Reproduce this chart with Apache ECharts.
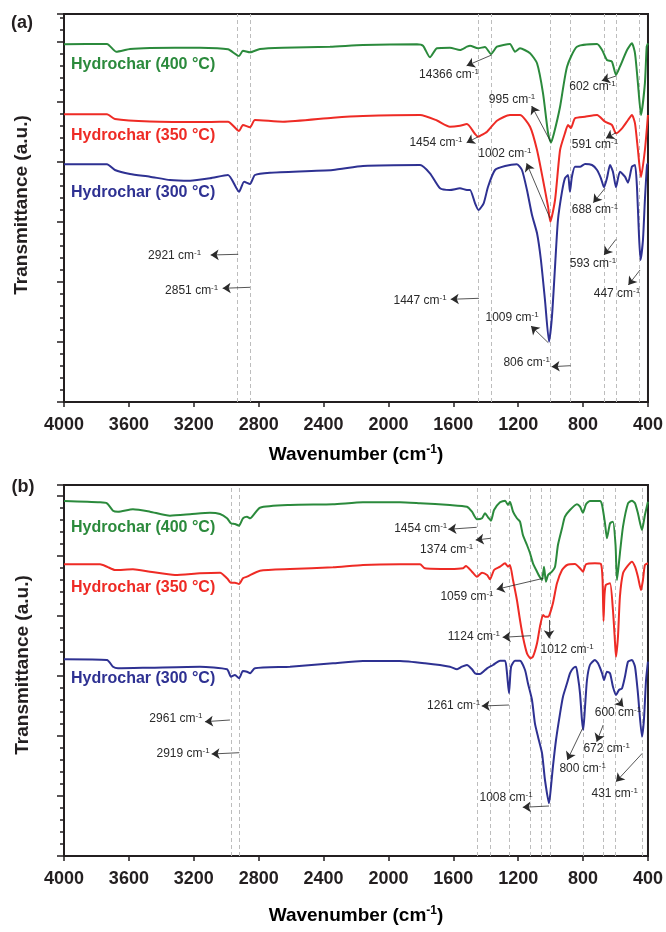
<!DOCTYPE html>
<html>
<head>
<meta charset="utf-8">
<script src="https://cdn.jsdelivr.net/npm/echarts@6/dist/echarts.min.js"></script>
<style>
  html, body { margin: 0; background: #fff; }
  #chart { width: 666px; height: 932px; }
</style>
</head>
<body>
<div id="chart"></div>
<script>
// FTIR spectra, [wavenumber, transmittance (a.u., offset)]
var a400 = [[4000,357.7],[3735,358],[3679,350.3],[3593,353],[3470,354],[3162,354.3],[2989,352.7],[2921,346],[2897,351.3],[2853,349.7],[2792,353],[2650,354.3],[2360,355.3],[2157,357],[1824,357.7],[1787,356.3],[1744,344.7],[1701,353.7],[1621,354.3],[1559,352],[1516,355.3],[1497,356.3],[1448,353.7],[1405,355],[1368,348],[1331,355.3],[1251,358],[1220,350.3],[1189,353.7],[1127,348.7],[1084,338.7],[1047,308.7],[1016,269],[998,259.3],[979,269],[942,295.3],[899,335.3],[838,355.3],[714,358],[683,352],[653,342],[622,340.3],[597,327],[573,335.3],[529,352],[499,358.7],[480,348.7],[462,318.7],[443,287],[419,318.7],[408,355.3],[400,358.7]];
var a350 = [[4000,287.7],[3735,287.7],[3686,283],[3470,280.5],[3100,280],[2989,280.3],[2921,271],[2897,277],[2853,274.7],[2823,282],[2650,280.3],[2342,284.3],[2157,286],[1805,287],[1701,281.5],[1621,275.3],[1559,276.3],[1516,278],[1466,268],[1448,265.3],[1436,266],[1392,270.3],[1331,281.3],[1251,287],[1189,287],[1127,275.3],[1084,252],[1047,222],[1016,195.3],[1002,180.3],[973,202],[942,252],[912,268.7],[893,277],[875,274],[850,283.7],[788,285.3],[714,287],[665,280.3],[622,277],[597,268.7],[560,273.7],[523,282],[499,287],[480,278.7],[462,252],[443,225],[419,252],[400,287]];
var a300 = [[4000,237.7],[3735,237.7],[3686,232],[3593,228],[3470,225.3],[3347,222],[3223,221.3],[3100,223.7],[2989,227],[2921,210.3],[2890,220.3],[2853,218],[2823,227],[2730,229.3],[2342,232],[2157,236],[1805,237],[1744,228.7],[1682,213.7],[1621,212],[1559,213.7],[1516,212],[1497,212],[1466,198.7],[1445,192],[1413,198.7],[1386,215.3],[1343,232],[1281,236],[1208,237.7],[1177,232],[1146,212],[1115,187],[1084,168.7],[1060,142],[1035,102],[1010,60.3],[992,85.3],[973,135.3],[955,182],[930,210.3],[912,223.7],[893,227],[881,210.3],[869,225.3],[850,235.3],[819,235.3],[788,238],[745,237],[714,232],[690,223.7],[671,214.7],[653,223.7],[634,237],[616,230.3],[597,214.7],[573,230.3],[542,225.3],[523,219.3],[499,235.3],[480,237],[468,215.3],[456,168.7],[446,142],[431,162],[419,202],[406,237],[400,238.7]];

var b400 = [[4000,355],[3778,353.7],[3735,352.7],[3698,345.3],[3667,344.3],[3575,346.7],[3470,344.3],[3347,340.3],[3223,341.7],[3100,343.3],[3038,342],[2995,337.7],[2971,332.7],[2946,332],[2921,330.3],[2897,337.7],[2872,339.3],[2853,337.7],[2792,348.3],[2607,351],[2342,351.7],[2157,353.7],[1929,353.7],[1805,352.7],[1621,351],[1516,349.3],[1485,344.3],[1454,336.7],[1423,337.7],[1405,342.7],[1386,338.7],[1368,335.3],[1349,346],[1312,353.7],[1281,355.3],[1263,351],[1251,354.3],[1232,344.3],[1208,337.7],[1189,334.3],[1171,321],[1146,311],[1127,302.7],[1109,292.7],[1084,284.3],[1066,278.7],[1053,276],[1041,289.3],[1029,274.3],[1016,281],[992,284.3],[973,289.3],[955,311],[930,327.7],[912,339.3],[881,346],[838,351.7],[819,349.3],[801,343.3],[782,351.7],[758,355],[696,355],[683,351],[665,332.7],[653,317.7],[634,332.7],[616,334.3],[600,311],[591,276],[573,302.7],[554,329.3],[523,352.7],[499,355.3],[480,352.7],[462,342.7],[437,326],[419,341],[400,354.3]];
var b350 = [[4000,291.7],[3778,291.7],[3735,289.3],[3686,286],[3575,286.7],[3470,284.3],[3316,281],[3162,282.7],[3038,283.3],[2995,277.7],[2971,273.3],[2946,273.3],[2921,272],[2897,277.7],[2872,279.3],[2792,285.3],[2607,287],[2342,288.7],[2157,291],[1929,291.7],[1805,291.7],[1775,287.7],[1621,287],[1540,287.7],[1522,290],[1485,284.3],[1454,279.3],[1423,283.3],[1392,281],[1374,276.7],[1349,286],[1312,289.3],[1281,292.7],[1263,289.3],[1251,291],[1232,276],[1208,256],[1189,236],[1171,219.3],[1146,202.7],[1124,197.7],[1109,199.3],[1084,212.7],[1066,229.3],[1047,241],[1035,239.3],[1016,239.3],[1004,242.7],[986,252.7],[961,272.7],[930,286],[899,291],[850,292],[819,287.7],[801,284.3],[782,291.7],[727,292.7],[690,292],[680,276],[674,235],[668,261],[660,271],[634,272.7],[616,246],[603,212.7],[597,199.3],[585,219.3],[573,259.3],[554,282.7],[529,289.3],[499,294.3],[480,289.3],[462,279.3],[443,266],[431,276],[419,291],[400,292.7]];
var b300 = [[4000,196.7],[3735,196],[3698,189.3],[3667,187.7],[3470,188.3],[3162,189.3],[2995,186.7],[2971,179.3],[2946,181],[2921,177.7],[2897,185],[2872,184.3],[2853,182.7],[2823,187.7],[2607,189.3],[2342,192.7],[2157,195],[1929,195],[1775,192.7],[1621,189.3],[1577,186.7],[1547,189.3],[1516,191],[1485,186.7],[1466,182.7],[1436,182],[1392,187.7],[1355,191],[1312,195.3],[1281,195.3],[1269,182.7],[1257,162.7],[1244,189.3],[1220,195.3],[1189,195.3],[1158,186],[1140,172.7],[1115,156],[1097,132.7],[1078,119.3],[1053,102.7],[1035,76],[1010,52.7],[998,69.3],[986,89.3],[967,116],[942,142.7],[924,159.3],[899,172.7],[881,182.7],[862,187.7],[844,189.3],[832,179.3],[819,162.7],[807,136],[799,126],[788,149.3],[776,176],[758,191],[727,196],[708,192.7],[683,182.7],[671,176],[653,184.3],[634,182.7],[616,169.3],[597,161],[579,166],[560,167.7],[542,179.3],[523,194.3],[499,196],[480,189.3],[462,162.7],[437,119.3],[425,136],[412,176],[400,194.3]];

// dashed guide lines (wavenumber)
var guidesA = [2930, 2853, 1445, 1368, 1004, 881, 671, 597, 456];
var guidesB = [2970, 2919, 1454, 1372, 1257, 1123, 1061, 1004, 800, 675, 601, 435];

// peak annotations: label, text position, arrow from -> to (data coords)
var notesA = [
  ['14366', [1627, 327], [1364, 347], [1518, 336.3]],
  ['995', [1238, 302.7], [1000, 260.3], [1117, 296]],
  ['602', [742, 315], [597, 326], [685, 321.3]],
  ['1454', [1707, 259], [1446, 265.3], [1518, 259.3]],
  ['1002', [1282, 248], [1004, 183.7], [1148, 238.7]],
  ['591', [727, 257], [597, 269.3], [659, 263.7]],
  ['688', [727, 192], [665, 213.7], [737, 199.3]],
  ['2921', [3318, 146.3], [2926, 147.7], [3096, 147]],
  ['2851', [3213, 111.3], [2853, 114.7], [3022, 113.7]],
  ['593', [739, 138.7], [597, 162.7], [671, 147]],
  ['447', [591, 108.7], [449, 132], [521, 117]],
  ['1447', [1805, 101.3], [1442, 103.7], [1616, 102.7]],
  ['1009', [1238, 84.3], [1015, 59.3], [1121, 76]],
  ['806', [1148, 39.3], [877, 36.3], [994, 35.3]]
];
var notesB = [
  ['1454', [1801, 327.7], [1456, 328.7], [1631, 326.7]],
  ['1374', [1641, 306.7], [1370, 317.7], [1462, 316]],
  ['1059', [1516, 259.3], [1045, 277.7], [1333, 266.7]],
  ['1124', [1473, 219.3], [1123, 220.3], [1296, 218.7]],
  ['1012', [899, 206.7], [1010, 236], [1010, 217.7]],
  ['2961', [3310, 137.7], [2977, 136], [3131, 134.3]],
  ['2919', [3266, 102.7], [2919, 103.3], [3090, 102]],
  ['1261', [1598, 150.3], [1257, 151], [1425, 150]],
  ['600', [585, 143.7], [597, 157.7], [552, 149.3]],
  ['672', [655, 107], [676, 131], [716, 114.3]],
  ['800', [803, 87.7], [803, 127.7], [897, 96]],
  ['431', [605, 62.7], [435, 102.7], [597, 74.3]],
  ['1008', [1275, 58.7], [1010, 50], [1172, 48.7]]
];

var names = ['Hydrochar (400 °C)', 'Hydrochar (350 °C)', 'Hydrochar (300 °C)'];
var colors = ['#2b8a3c', '#ee2b25', '#2e3192'];
var ink = '#231f20';
var font = 'Liberation Sans';

var chart = echarts.init(document.getElementById('chart'));

var panels = [
  { top: 14, height: 388, curves: [a400, a350, a300], guides: guidesA, notes: notesA, nameY: [65, 136, 193] },
  { top: 485, height: 371, curves: [b400, b350, b300], guides: guidesB, notes: notesB, nameY: [528, 588, 679] }
];

var grids = [], xAxes = [], yAxes = [], series = [], graphics = [];

panels.forEach(function (p, g) {
  grids.push({ left: 64, top: p.top, width: 584, height: p.height, show: true,
    borderColor: ink, borderWidth: 2, backgroundColor: 'transparent' });
  xAxes.push({
    gridIndex: g, type: 'value', inverse: true, min: 400, max: 4000, interval: 400,
    axisLine: { show: false },
    axisTick: { show: true, length: 5, lineStyle: { color: ink, width: 1.5 } },
    axisLabel: { margin: 14, fontFamily: font, fontWeight: 'bold', fontSize: 18, color: ink,
      formatter: function (v) { return String(v); } },
    splitLine: { show: false }
  });
  [12, 60].forEach(function (step) {
    yAxes.push({
      gridIndex: g, type: 'value', position: 'left', min: 0, max: p.height, interval: step,
      axisLine: { show: false },
      axisTick: { show: true, length: step === 12 ? 4 : 7, lineStyle: { color: ink, width: 1.5 } },
      axisLabel: { show: false }, splitLine: { show: false }
    });
  });

  // guides behind curves
  series.push({
    type: 'line', xAxisIndex: g, yAxisIndex: 2 * g, data: [], silent: true,
    markLine: {
      z: 1, silent: true, symbol: ['none', 'none'], animation: false,
      label: { show: false },
      lineStyle: { type: [4, 3], color: '#bdbdbd', width: 1 },
      emphasis: { disabled: true },
      data: p.guides.map(function (w) { return { xAxis: w }; })
    }
  });

  p.curves.forEach(function (d, i) {
    series.push({
      name: names[i], type: 'line', xAxisIndex: g, yAxisIndex: 2 * g, data: d,
      showSymbol: false, smooth: 0.2, silent: true, z: 3,
      lineStyle: { color: colors[i], width: 2 }
    });
    graphics.push({
      type: 'text', x: 71, y: p.nameY[i],
      style: { text: names[i], fill: colors[i], font: 'bold 16px ' + font, align: 'left', verticalAlign: 'middle' }
    });
  });

  // arrows and peak labels
  series.push({
    type: 'line', xAxisIndex: g, yAxisIndex: 2 * g, data: [], silent: true,
    markLine: {
      silent: true, symbol: ['none', 'arrow'], symbolSize: 8, animation: false,
      label: { show: false },
      lineStyle: { type: 'solid', color: '#2a2a2a', width: 0.8 },
      emphasis: { disabled: true },
      data: p.notes.map(function (n) { return [{ coord: n[2] }, { coord: n[3] }]; })
    },
    markPoint: {
      silent: true, symbol: 'rect', symbolSize: 1, animation: false,
      itemStyle: { color: 'rgba(0,0,0,0)' },
      label: {
        show: true, position: 'inside',
        rich: {
          n: { fontFamily: font, fontSize: 12, color: '#2a2a2a', lineHeight: 14 },
          s: { fontFamily: font, fontSize: 8, color: '#2a2a2a', verticalAlign: 'top', lineHeight: 8 }
        }
      },
      data: p.notes.map(function (n) {
        return { coord: n[1], label: { formatter: '{n|' + n[0] + ' cm}{s|-1}' } };
      })
    }
  });
});

var titleRich = {
  t: { fontFamily: font, fontWeight: 'bold', fontSize: 19, color: ink, lineHeight: 22 },
  s: { fontFamily: font, fontWeight: 'bold', fontSize: 12, color: ink, verticalAlign: 'top', lineHeight: 12 }
};
graphics.push(
  { type: 'text', x: 22, y: 23, style: { text: '(a)', font: 'bold 18px ' + font, fill: ink, align: 'center', verticalAlign: 'middle' } },
  { type: 'text', x: 23, y: 487, style: { text: '(b)', font: 'bold 18px ' + font, fill: ink, align: 'center', verticalAlign: 'middle' } },
  { type: 'text', x: 356, y: 455, style: { text: '{t|Wavenumber (cm}{s|-1}{t|)}', rich: titleRich, align: 'center', verticalAlign: 'middle' } },
  { type: 'text', x: 356, y: 916, style: { text: '{t|Wavenumber (cm}{s|-1}{t|)}', rich: titleRich, align: 'center', verticalAlign: 'middle' } },
  { type: 'text', x: 22, y: 205, rotation: Math.PI / 2, style: { text: 'Transmittance (a.u.)', font: 'bold 19px ' + font, fill: ink, align: 'center', verticalAlign: 'middle' } },
  { type: 'text', x: 23, y: 665, rotation: Math.PI / 2, style: { text: 'Transmittance (a.u.)', font: 'bold 19px ' + font, fill: ink, align: 'center', verticalAlign: 'middle' } }
);

var option = {
  animation: false,
  backgroundColor: '#fff',
  grid: grids,
  xAxis: xAxes,
  yAxis: yAxes,
  series: series,
  graphic: graphics
};
option && chart.setOption(option);
</script>
</body>
</html>
